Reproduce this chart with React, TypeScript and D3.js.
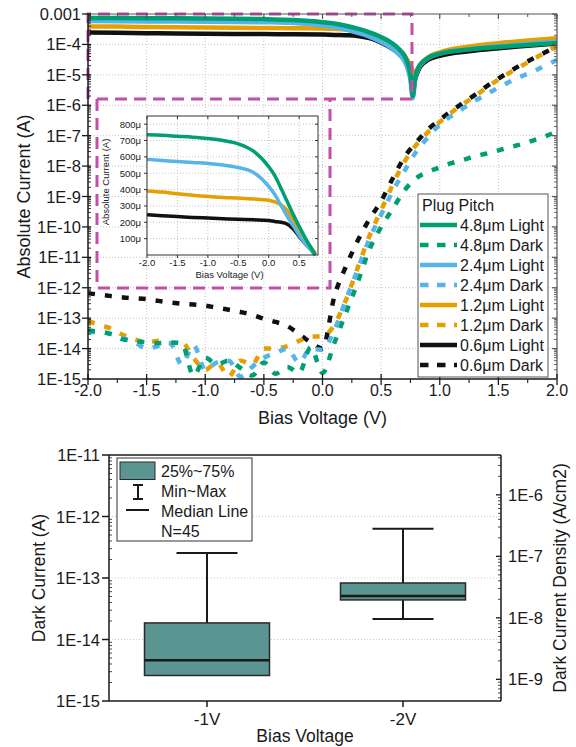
import React, { useEffect, useRef } from "react";
import * as d3 from "d3";

const W = 576;
const H = 747;
const FONT = "Liberation Sans, Arial, Helvetica, sans-serif";

// ---- Light I-V (A), shared bias grid ----
const lightV = [-2, -1.75, -1.5, -1.25, -1, -0.75, -0.5, -0.25, 0, 0.1, 0.2, 0.3, 0.4, 0.5, 0.6, 0.65, 0.7, 0.73, 0.75, 0.77, 0.79, 0.82, 0.86, 0.9, 1.0, 1.25, 1.5, 1.75, 2.0];
const light48 = [735e-6, 732e-6, 726e-6, 720e-6, 712e-6, 700e-6, 680e-6, 635e-6, 540e-6, 485e-6, 410e-6, 330e-6, 250e-6, 175e-6, 105e-6, 72e-6, 42e-6, 22e-6, 10e-6, 2.0e-6, 8e-6, 18e-6, 28e-6, 36e-6, 50e-6, 68e-6, 82e-6, 96e-6, 112e-6];
const light24 = [585e-6, 578e-6, 572e-6, 566e-6, 560e-6, 550e-6, 535e-6, 505e-6, 420e-6, 370e-6, 305e-6, 240e-6, 180e-6, 120e-6, 70e-6, 48e-6, 28e-6, 14e-6, 7e-6, 1.7e-6, 7e-6, 17e-6, 27e-6, 35e-6, 50e-6, 70e-6, 88e-6, 105e-6, 125e-6];
const light12 = [392e-6, 385e-6, 375e-6, 366e-6, 358e-6, 352e-6, 348e-6, 343e-6, 335e-6, 325e-6, 308e-6, 275e-6, 215e-6, 155e-6, 95e-6, 68e-6, 42e-6, 28e-6, 20e-6, 14e-6, 11e-6, 18e-6, 28e-6, 38e-6, 55e-6, 85e-6, 110e-6, 135e-6, 160e-6];
const light06 = [246e-6, 240e-6, 235e-6, 230e-6, 226e-6, 222e-6, 218e-6, 215e-6, 211e-6, 205e-6, 200e-6, 190e-6, 160e-6, 114e-6, 70e-6, 50e-6, 30e-6, 17e-6, 9e-6, 3e-6, 7e-6, 15e-6, 24e-6, 31e-6, 42e-6, 60e-6, 75e-6, 90e-6, 108e-6];

// ---- Dark I-V (A) ----
const darkV = [-2.0, -1.9, -1.8, -1.7, -1.6, -1.5, -1.4, -1.3, -1.2, -1.1, -1.0, -0.9, -0.8, -0.7, -0.6, -0.5, -0.4, -0.3, -0.2, -0.1, 0.0, 0.1, 0.2, 0.3, 0.4, 0.5, 0.6, 0.7, 0.8, 0.9, 1.0, 1.1, 1.2, 1.3, 1.4, 1.5, 1.6, 1.7, 1.8, 1.9, 2.0];
const dark48 = [4e-14, 3.5e-14, 3e-14, 2e-14, 1.8e-14, 1.6e-14, 1.5e-14, 1.6e-14, 1.5e-14, 1.3e-15, 5e-15, 3e-15, 4e-15, 2.3e-15, 1.3e-15, 3.5e-15, 1.5e-15, 2.5e-15, 1.6e-15, 1.1e-14, 1.6e-15, 1.5e-14, 1.5e-13, 1.5e-12, 1.8e-11, 1e-10, 4e-10, 1.6e-9, 4e-9, 6.5e-9, 9e-9, 1.25e-8, 1.6e-8, 2.1e-8, 2.6e-8, 3.3e-8, 4.2e-8, 5.3e-8, 7e-8, 9.5e-8, 1.4e-7];
const dark24 = [3.5e-14, 3.5e-14, 3e-14, 2.2e-14, 1.6e-14, 1e-14, 1.2e-14, 1.5e-14, 3e-15, 1.3e-14, 2e-15, 3.5e-15, 4e-15, 1.2e-15, 2.5e-15, 5e-15, 7e-15, 1e-14, 3.5e-15, 1e-14, 9e-15, 4e-14, 4e-13, 4e-12, 4e-11, 2.5e-10, 1.5e-9, 7e-9, 3e-8, 9e-8, 2.3e-7, 4.5e-7, 8e-7, 1.4e-6, 2.3e-6, 3.8e-6, 6e-6, 9e-6, 1.3e-5, 2e-5, 3.1e-5];
const dark12 = [8e-14, 6e-14, 4.5e-14, 2.8e-14, 2e-14, 1.6e-14, 1.8e-14, 1.5e-14, 1.6e-14, 5e-15, 2e-15, 3.5e-15, 1.2e-15, 4e-15, 3e-15, 1e-14, 1e-14, 1.2e-14, 1.8e-14, 2.5e-14, 2.5e-14, 6e-14, 4e-13, 4.5e-12, 5e-11, 3.5e-10, 2.5e-9, 1.4e-8, 5e-8, 1.3e-7, 2.8e-7, 5.8e-7, 1.1e-6, 2e-6, 3.8e-6, 7e-6, 1.2e-5, 2e-5, 3.3e-5, 5.5e-5, 9e-5];
const dark06 = [6.6e-13, 5.9e-13, 5.3e-13, 4.8e-13, 4.5e-13, 4.2e-13, 3.7e-13, 3.3e-13, 3.0e-13, 2.8e-13, 2.6e-13, 2.2e-13, 1.9e-13, 1.6e-13, 1.3e-13, 9.5e-14, 7.5e-14, 5.5e-14, 3.0e-14, 1.6e-14, 1.0e-14, 5e-13, 5e-12, 3.5e-11, 1.8e-10, 7e-10, 4e-9, 2e-8, 6e-8, 1.6e-7, 3.3e-7, 6.5e-7, 1.2e-6, 2.2e-6, 4.2e-6, 7.5e-6, 1.3e-5, 2.2e-5, 3.5e-5, 5.5e-5, 8.5e-5];

const pitches = ["4.8μm", "2.4μm", "1.2μm", "0.6μm"];
const pitchColors = ["#009E73", "#56B4E9", "#E69F00", "#111111"];
const lightSets = [light48, light24, light12, light06];
const darkSets = [dark48, dark24, dark12, dark06];

const mainXTicks = [-2, -1.5, -1, -0.5, 0, 0.5, 1, 1.5, 2];
const mainYExp = [-15, -14, -13, -12, -11, -10, -9, -8, -7, -6, -5, -4, -3];
const insetXTicks = [-2, -1.5, -1, -0.5, 0, 0.5];
const insetYTicks = [100e-6, 200e-6, 300e-6, 400e-6, 500e-6, 600e-6, 700e-6, 800e-6];

// ---- Box plot (A) ----
const boxCats = ["-1V", "-2V"];
const boxMin = [2.6e-15, 2.15e-14];
const boxQ1 = [2.6e-15, 4.4e-14];
const boxMedian = [4.6e-15, 5.1e-14];
const boxQ3 = [1.86e-14, 8.3e-14];
const boxMax = [2.55e-13, 6.3e-13];
const pixelArea = 2.25e-6; // cm2, for the density axis

const MAGENTA = "#C24FA8";
const BOXFILL = "#5B9592";

type Sel = d3.Selection<SVGGElement, unknown, null, undefined>;

function txt(g: Sel, x: number, y: number, s: string, size: number, anchor = "start", rot = 0) {
  const t = g.append("text")
    .attr("x", x).attr("y", y)
    .attr("font-family", FONT).attr("font-size", size)
    .attr("fill", "#1a1a1a").attr("text-anchor", anchor)
    .text(s);
  if (rot) t.attr("transform", `rotate(${rot},${x},${y})`);
  return t;
}

function hline(g: Sel, x1: number, x2: number, y: number, color = "#1a1a1a", w = 1) {
  g.append("line").attr("x1", x1).attr("x2", x2).attr("y1", y).attr("y2", y).attr("stroke", color).attr("stroke-width", w);
}
function vline(g: Sel, x: number, y1: number, y2: number, color = "#1a1a1a", w = 1) {
  g.append("line").attr("x1", x).attr("x2", x).attr("y1", y1).attr("y2", y2).attr("stroke", color).attr("stroke-width", w);
}

function drawTop(root: Sel) {
  const g = root.append("g");
  const L = 88, R = 557, T = 14, B = 379;
  const x = d3.scaleLinear().domain([-2, 2]).range([L, R]);
  const y = d3.scaleLog().domain([1e-15, 1e-3]).range([B, T]);

  // grid
  const grid = g.append("g").attr("stroke", "#b5b5b5").attr("stroke-width", 0.8).attr("stroke-dasharray", "1,2");
  mainXTicks.slice(1, -1).forEach(v => grid.append("line").attr("x1", x(v)).attr("x2", x(v)).attr("y1", T).attr("y2", B));
  mainYExp.slice(1, -1).forEach(e => grid.append("line").attr("x1", L).attr("x2", R).attr("y1", y(Math.pow(10, e))).attr("y2", y(Math.pow(10, e))));

  root.append("clipPath").attr("id", "mainClip").append("rect").attr("x", L).attr("y", T).attr("width", R - L).attr("height", B - T);
  const plot = g.append("g").attr("clip-path", "url(#mainClip)");

  const line = d3.line<[number, number]>().x(d => x(d[0])).y(d => y(d[1])).curve(d3.curveMonotoneX);

  // dark curves (dashed)
  [3, 2, 1, 0].forEach(i => {
    const pts = darkV.map((v, k) => [v, darkSets[i][k]] as [number, number]);
    plot.append("path").attr("d", line(pts)).attr("fill", "none")
      .attr("stroke", pitchColors[i]).attr("stroke-width", 4.5).attr("stroke-dasharray", "7,10");
  });
  // light curves (solid)
  [3, 2, 1, 0].forEach(i => {
    const pts = lightV.map((v, k) => [v, lightSets[i][k]] as [number, number]);
    plot.append("path").attr("d", line(pts)).attr("fill", "none")
      .attr("stroke", pitchColors[i]).attr("stroke-width", 4.5);
  });

  // zoom call-out boxes
  const mag = g.append("g").attr("fill", "none").attr("stroke", MAGENTA).attr("stroke-width", 3).attr("stroke-dasharray", "12,7");
  mag.append("path").attr("d", `M${L},99 L${L},${T} L412,${T} L412,99 L97,99`);
  mag.append("path").attr("d", "M97,99 L97,288 L330,288 L330,99");

  // inset
  drawInset(g);

  // frame and axes
  hline(g, L, R, T, "#555", 1.2);
  vline(g, R, T, B, "#555", 1.2);
  hline(g, L - 1, R, B, "#1a1a1a", 1.5);
  vline(g, L, T, B, "#1a1a1a", 1.5);

  mainXTicks.forEach(v => {
    vline(g, x(v), B - 5, B + 6, "#1a1a1a", 1.3);
    vline(g, x(v), T, T + 5, "#555", 1.2);
    txt(g, x(v), 396, v.toFixed(1), 16, "middle");
  });
  d3.range(-1.75, 2, 0.5).forEach(v => {
    vline(g, x(v), B, B + 4, "#1a1a1a", 1.1);
    vline(g, x(v), T, T + 3, "#555", 1);
  });
  mainYExp.forEach(e => {
    const yy = y(Math.pow(10, e));
    hline(g, L - 6, L + 3, yy, "#1a1a1a", 1.3);
    hline(g, R - 5, R, yy, "#555", 1.2);
    txt(g, L - 7, yy + 6, e === -3 ? "0.001" : `1E${e}`, 16.5, "end");
    if (e < -3) {
      d3.range(2, 10).forEach(m => {
        const ym = y(m * Math.pow(10, e));
        hline(g, L, L + 3, ym, "#1a1a1a", 0.9);
        hline(g, R - 3, R, ym, "#555", 0.9);
      });
    }
  });

  txt(g, (L + R) / 2, 424, "Bias Voltage (V)", 18, "middle");
  txt(g, 30, (T + B) / 2, "Absolute Current (A)", 18, "middle", -90);

  // legend
  const lg = g.append("g");
  lg.append("rect").attr("x", 418).attr("y", 194).attr("width", 130).attr("height", 183)
    .attr("fill", "#fff").attr("stroke", "#555").attr("stroke-width", 1);
  txt(lg, 422, 211, "Plug Pitch", 16);
  pitches.forEach((p, i) => {
    ["Light", "Dark"].forEach((kind, j) => {
      const ry = 225 + (i * 2 + j) * 20;
      const ln = lg.append("line").attr("x1", 420).attr("x2", 457).attr("y1", ry).attr("y2", ry)
        .attr("stroke", pitchColors[i]).attr("stroke-width", 4.5);
      if (kind === "Dark") ln.attr("stroke-dasharray", "8.5,8.5");
      txt(lg, 460, ry + 6, `${p} ${kind}`, 16);
    });
  });
}

function drawInset(parent: Sel) {
  const g = parent.append("g");
  const L = 147, R = 318, T = 116, B = 255;
  const x = d3.scaleLinear().domain([-2, 0.81]).range([L, R]);
  const y = d3.scaleLinear().domain([0, 850e-6]).range([B, T]);

  g.append("rect").attr("x", L).attr("y", T).attr("width", R - L).attr("height", B - T).attr("fill", "#fff");
  const grid = g.append("g").attr("stroke", "#b5b5b5").attr("stroke-width", 0.8).attr("stroke-dasharray", "1,2");
  insetXTicks.slice(1).forEach(v => grid.append("line").attr("x1", x(v)).attr("x2", x(v)).attr("y1", T).attr("y2", B));
  insetYTicks.forEach(v => grid.append("line").attr("x1", L).attr("x2", R).attr("y1", y(v)).attr("y2", y(v)));

  const line = d3.line<[number, number]>().x(d => x(d[0])).y(d => y(d[1])).curve(d3.curveMonotoneX);
  [3, 2, 1, 0].forEach(i => {
    const pts = lightV.map((v, k) => [v, lightSets[i][k]] as [number, number]).filter(d => d[0] <= 0.77);
    g.append("path").attr("d", line(pts)).attr("fill", "none")
      .attr("stroke", pitchColors[i]).attr("stroke-width", 3.5);
  });

  g.append("rect").attr("x", L).attr("y", T).attr("width", R - L).attr("height", B - T)
    .attr("fill", "none").attr("stroke", "#333").attr("stroke-width", 1);

  insetXTicks.forEach(v => {
    vline(g, x(v), B, B + 3, "#333", 1);
    vline(g, x(v), T, T + 3, "#333", 1);
    txt(g, x(v), 266, v.toFixed(1), 9.5, "middle");
  });
  insetYTicks.forEach(v => {
    hline(g, L - 3, L, y(v), "#333", 1);
    hline(g, R - 3, R, y(v), "#333", 1);
    txt(g, L - 6, y(v) + 3.5, `${Math.round(v * 1e6)}μ`, 9.5, "end");
  });
  txt(g, (L + R) / 2 - 3, 278, "Bias Voltage (V)", 9.5, "middle");
  txt(g, 109, 182, "Absolute Current (A)", 9.5, "middle", -90);
}

function drawBottom(root: Sel) {
  const g = root.append("g");
  const L = 109, R = 501, T = 455, B = 701;
  const x = d3.scaleBand<string>().domain(boxCats).range([L, R]).padding(0);
  const y = d3.scaleLog().domain([1e-15, 1e-11]).range([B, T]);
  const yr = d3.scaleLog().domain([1e-15 / pixelArea, 1e-11 / pixelArea]).range([B, T]);
  const bw = 125, cap = 61;

  const grid = g.append("g").attr("stroke", "#bdbdbd").attr("stroke-width", 0.8).attr("stroke-dasharray", "1,2");
  [-12, -13, -14].forEach(e => grid.append("line").attr("x1", L).attr("x2", R).attr("y1", y(Math.pow(10, e))).attr("y2", y(Math.pow(10, e))));

  boxCats.forEach((c, i) => {
    const cx = (x(c) as number) + x.bandwidth() / 2;
    vline(g, cx, y(boxMax[i]), y(boxQ3[i]), "#1a1a1a", 2);
    vline(g, cx, y(boxQ1[i]), y(boxMin[i]), "#1a1a1a", 2);
    hline(g, cx - cap / 2, cx + cap / 2, y(boxMax[i]), "#1a1a1a", 2);
    if (boxMin[i] < boxQ1[i]) hline(g, cx - cap / 2, cx + cap / 2, y(boxMin[i]), "#1a1a1a", 2);
    g.append("rect").attr("x", cx - bw / 2).attr("y", y(boxQ3[i])).attr("width", bw)
      .attr("height", y(boxQ1[i]) - y(boxQ3[i])).attr("fill", BOXFILL).attr("stroke", "#2a2a2a").attr("stroke-width", 1.5);
    hline(g, cx - bw / 2, cx + bw / 2, y(boxMedian[i]), "#1a1a1a", 2.5);
    vline(g, cx, B, B + 6, "#1a1a1a", 1.5);
    txt(g, cx, 725, c, 17, "middle");
  });

  // frame
  hline(g, L, R, T, "#1a1a1a", 1.5);
  hline(g, L, R, B, "#1a1a1a", 1.5);
  vline(g, L, T, B, "#1a1a1a", 1.5);
  vline(g, R, T, B, "#1a1a1a", 1.5);

  [-15, -14, -13, -12, -11].forEach(e => {
    const yy = y(Math.pow(10, e));
    hline(g, L - 7, L, yy, "#1a1a1a", 1.5);
    txt(g, L - 9, yy + 6, `1E${e}`, 16.5, "end");
    if (e < -11) d3.range(2, 10).forEach(m => hline(g, L, L + 3, y(m * Math.pow(10, e)), "#1a1a1a", 0.8));
  });
  const [rlo, rhi] = yr.domain();
  d3.range(Math.floor(Math.log10(rlo)), Math.ceil(Math.log10(rhi)) + 1).forEach(e => {
    d3.range(1, 10).forEach(m => {
      const v = m * Math.pow(10, e);
      if (v < rlo || v > rhi) return;
      hline(g, R - (m === 1 ? 5 : 3), R, yr(v), "#1a1a1a", m === 1 ? 1.3 : 0.8);
    });
    const v = Math.pow(10, e);
    if (v >= rlo && v <= rhi) txt(g, R + 7, yr(v) + 6, `1E${e}`, 16.5, "start");
  });

  txt(g, (L + R) / 2, 742, "Bias Voltage", 17.5, "middle");
  txt(g, 45, (T + B) / 2, "Dark Current (A)", 17.5, "middle", -90);
  txt(g, 566, (T + B) / 2, "Dark Current Density (A/cm2)", 17.5, "middle", -90);

  // legend
  const lg = g.append("g");
  lg.append("rect").attr("x", 117).attr("y", 458).attr("width", 135).attr("height", 83)
    .attr("fill", "#fff").attr("stroke", "#333").attr("stroke-width", 1);
  lg.append("rect").attr("x", 120).attr("y", 462).attr("width", 35).attr("height", 17.5)
    .attr("fill", BOXFILL).attr("stroke", "#2a2a2a").attr("stroke-width", 1);
  vline(lg, 138, 485, 499, "#1a1a1a", 2);
  hline(lg, 133, 143, 485, "#1a1a1a", 2);
  hline(lg, 133, 143, 499, "#1a1a1a", 2);
  hline(lg, 126, 149, 510, "#1a1a1a", 2);
  txt(lg, 161, 477, "25%~75%", 16);
  txt(lg, 161, 497, "Min~Max", 16);
  txt(lg, 161, 517, "Median Line", 16);
  txt(lg, 161, 537, "N=45", 16);
}

export default function App() {
  const svgRef = useRef<SVGSVGElement | null>(null);

  useEffect(() => {
    if (!svgRef.current) return;
    const svg = d3.select(svgRef.current);
    svg.selectAll("*").remove();
    const root = svg.append("g") as unknown as Sel;
    drawTop(root);
    drawBottom(root);
  }, []);

  return (
    <div style={{ position: "absolute", left: 0, top: 0 }}>
      <svg ref={svgRef} width={W} height={H} style={{ display: "block", background: "#fff" }} />
    </div>
  );
}
